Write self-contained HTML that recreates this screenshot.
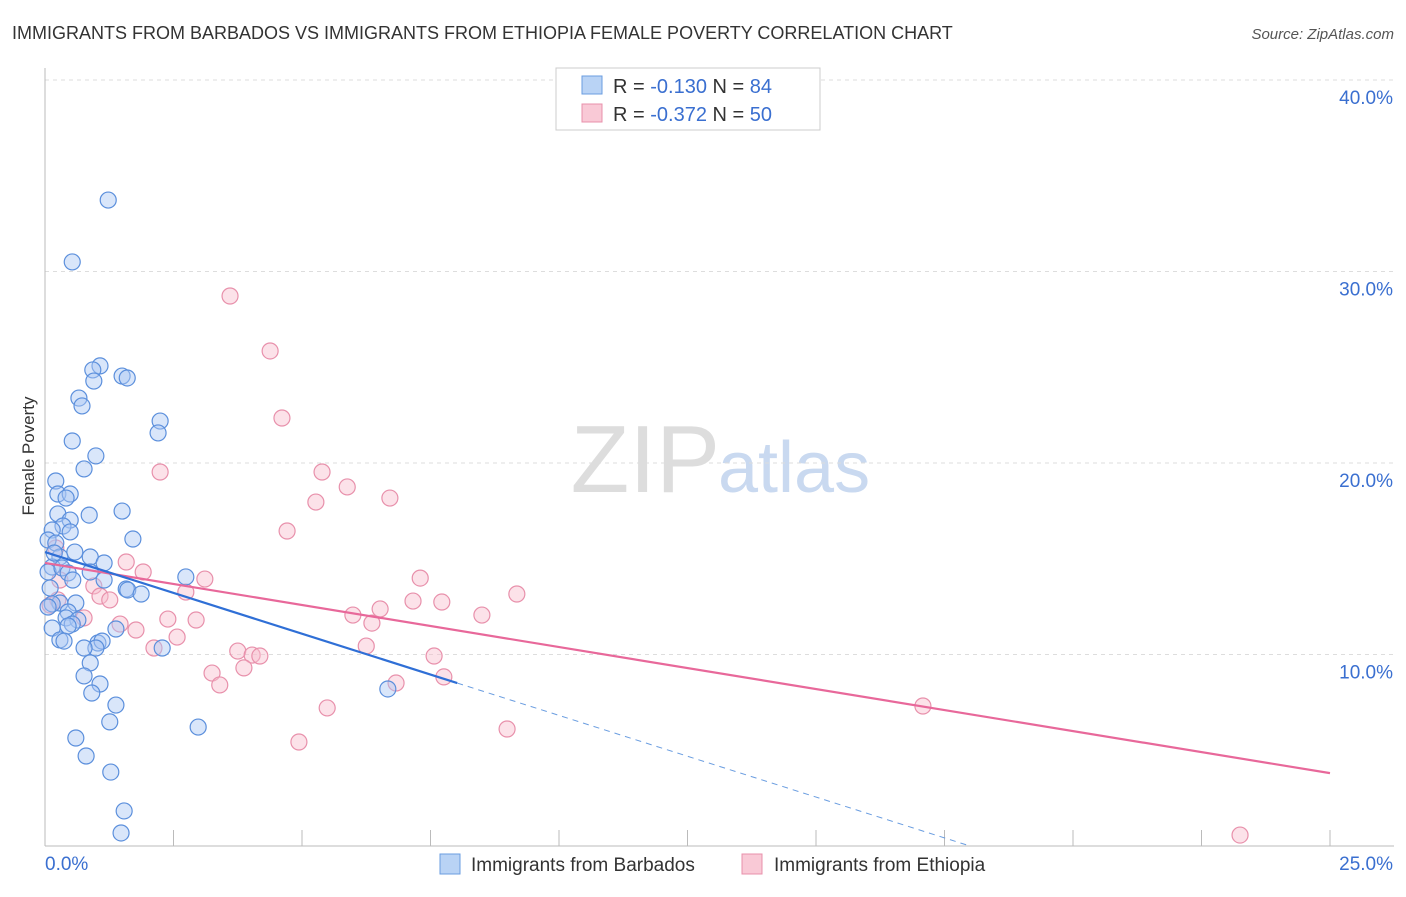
<!DOCTYPE html>
<html><head><meta charset="utf-8"><style>
body{margin:0;background:#fff;font-family:"Liberation Sans",sans-serif}
svg text{font-family:"Liberation Sans",sans-serif}
</style></head><body>
<svg id="c" width="1406" height="892">
<text x="12" y="39" font-size="18" fill="#333">IMMIGRANTS FROM BARBADOS VS IMMIGRANTS FROM ETHIOPIA FEMALE POVERTY CORRELATION CHART</text>
<text x="1394" y="39" font-size="15" fill="#555" font-style="italic" text-anchor="end">Source: ZipAtlas.com</text>
<text x="34" y="456" font-size="17" fill="#333" text-anchor="middle" transform="rotate(-90 34 456)">Female Poverty</text>
<text x="720" y="492" font-size="96" fill="#ddd" text-anchor="end" font-family="Liberation Serif">ZIP</text>
<text x="718" y="492" font-size="72" fill="#c9d9f0">atlas</text>
<g id="grid"></g><g id="pts"></g><g id="lines"></g>
<g>
<rect x="556" y="68" width="264" height="62" fill="#fff" stroke="#ccc"/>
<rect x="582" y="76" width="20" height="18" fill="#b9d3f5" stroke="#6a9de0"/>
<rect x="582" y="104" width="20" height="18" fill="#f9c9d6" stroke="#e890ab"/>
<text x="613" y="93" font-size="20" fill="#333">R = <tspan fill="#3a6fd0">-0.130</tspan>   N = <tspan fill="#3a6fd0">84</tspan></text>
<text x="613" y="121" font-size="20" fill="#333">R = <tspan fill="#3a6fd0">-0.372</tspan>   N = <tspan fill="#3a6fd0">50</tspan></text>
</g>
<g>
<rect x="440" y="854" width="20" height="20" fill="#b9d3f5" stroke="#6a9de0"/>
<text x="471" y="871" font-size="19" fill="#333">Immigrants from Barbados</text>
<rect x="742" y="854" width="20" height="20" fill="#f9c9d6" stroke="#e890ab"/>
<text x="774" y="871" font-size="19" fill="#333">Immigrants from Ethiopia</text>
</g>
</svg>
<script>
const xTicks=[0,2.5,5,7.5,10,12.5,15,17.5,20,22.5,25];
const yTicks=[10,20,30,40];
const yTickLabels=["10.0%","20.0%","30.0%","40.0%"];
const bluePx=[[108,200],[72,262],[100,366],[93,370],[94,381],[122,376],[127,378],[79,398],[82,406],[160,421],[158,433],[72,441],[96,456],[84,469],[56,481],[58,494],[70,494],[66,498],[89,515],[122,511],[58,514],[70,520],[63,526],[70,532],[52,530],[133,539],[48,540],[56,543],[75,552],[90,557],[104,563],[60,557],[52,567],[48,572],[62,568],[68,573],[90,572],[73,580],[104,580],[186,577],[126,589],[128,590],[141,594],[60,603],[76,603],[52,604],[68,612],[66,618],[78,620],[72,624],[52,628],[68,626],[116,629],[60,640],[64,641],[98,643],[102,641],[96,648],[84,648],[162,648],[90,663],[84,676],[100,684],[92,693],[116,705],[110,722],[198,727],[76,738],[86,756],[111,772],[124,811],[121,833],[388,689],[50,588],[54,553],[48,607]];
const pinkPx=[[230,296],[270,351],[282,418],[160,472],[322,472],[316,502],[347,487],[390,498],[287,531],[56,548],[126,562],[143,572],[60,580],[94,586],[205,579],[420,578],[186,592],[100,596],[110,600],[50,605],[413,601],[442,602],[517,594],[482,615],[353,615],[380,609],[168,619],[196,620],[84,618],[120,624],[136,630],[372,623],[177,637],[154,648],[238,651],[252,655],[260,656],[434,656],[366,646],[212,673],[244,668],[220,685],[396,683],[444,677],[327,708],[299,742],[507,729],[923,706],[1240,835],[58,600]];
// convert to data values (%)
const blueX=bluePx.map(p=>+((p[0]-45)/51.4).toFixed(2)), blueY=bluePx.map(p=>+((846-p[1])/19.15).toFixed(2));
const pinkX=pinkPx.map(p=>+((p[0]-45)/51.4).toFixed(2)), pinkY=pinkPx.map(p=>+((846-p[1])/19.15).toFixed(2));
const blueFit=[15.35,-0.853], blueSolidEnd=8.02, pinkFit=[14.78,-0.439];
const sx=v=>45+v*51.4, sy=v=>846-v*19.15;
const NS="http://www.w3.org/2000/svg";
function mk(t,a,p){const e=document.createElementNS(NS,t);for(const k in a)e.setAttribute(k,a[k]);p.appendChild(e);return e;}
const grid=document.getElementById('grid');
yTicks.forEach((v,i)=>{
 const l=mk('line',{x1:45,x2:1394,y1:sy(v),y2:sy(v),stroke:'#ddd','stroke-dasharray':'4 4'},grid);
 
 
 const t=mk('text',{x:1393,y:sy(v)+24,'font-size':19,fill:'#3a6fd0','text-anchor':'end'},grid);
 t.textContent=yTickLabels[i];
 
 
});
mk('line',{x1:45,x2:45,y1:68,y2:846,stroke:'#bbb'},grid);
mk('line',{x1:45,x2:1394,y1:846,y2:846,stroke:'#bbb'},grid);
xTicks.forEach(v=>{const l=mk('line',{x1:sx(v),x2:sx(v),y1:830,y2:846,stroke:'#bbb'},grid);
 
 });
let t=mk('text',{x:45,y:870,'font-size':19,fill:'#3a6fd0'},grid);t.textContent='0.0%';


t=mk('text',{x:1393,y:870,'font-size':19,fill:'#3a6fd0','text-anchor':'end'},grid);t.textContent='25.0%';


const pts=document.getElementById('pts');
pinkX.forEach((x,i)=>{const c=mk('circle',{cx:sx(x),cy:sy(pinkY[i]),r:8,fill:'rgba(249,190,207,0.45)',stroke:'#e890ab','stroke-width':1.2},pts);
 
 });
blueX.forEach((x,i)=>{const c=mk('circle',{cx:sx(x),cy:sy(blueY[i]),r:8,fill:'rgba(170,200,245,0.45)',stroke:'#5b8fdc','stroke-width':1.2},pts);
 
 });
const ln=document.getElementById('lines');
let l=mk('line',{x1:sx(0),y1:sy(pinkFit[0]),x2:sx(25),y2:sy(pinkFit[0]+pinkFit[1]*25),stroke:'#e8689a','stroke-width':2.2},ln);


l=mk('line',{x1:sx(0),y1:sy(blueFit[0]),x2:sx(blueSolidEnd),y2:sy(blueFit[0]+blueFit[1]*blueSolidEnd),stroke:'#2f6fd6','stroke-width':2.2},ln);


const xz=-blueFit[0]/blueFit[1];
l=mk('line',{x1:sx(blueSolidEnd),y1:sy(blueFit[0]+blueFit[1]*blueSolidEnd),x2:sx(xz),y2:sy(0),stroke:'#6a9de0','stroke-width':1,'stroke-dasharray':'6 5'},ln);


</script>
</body></html>
